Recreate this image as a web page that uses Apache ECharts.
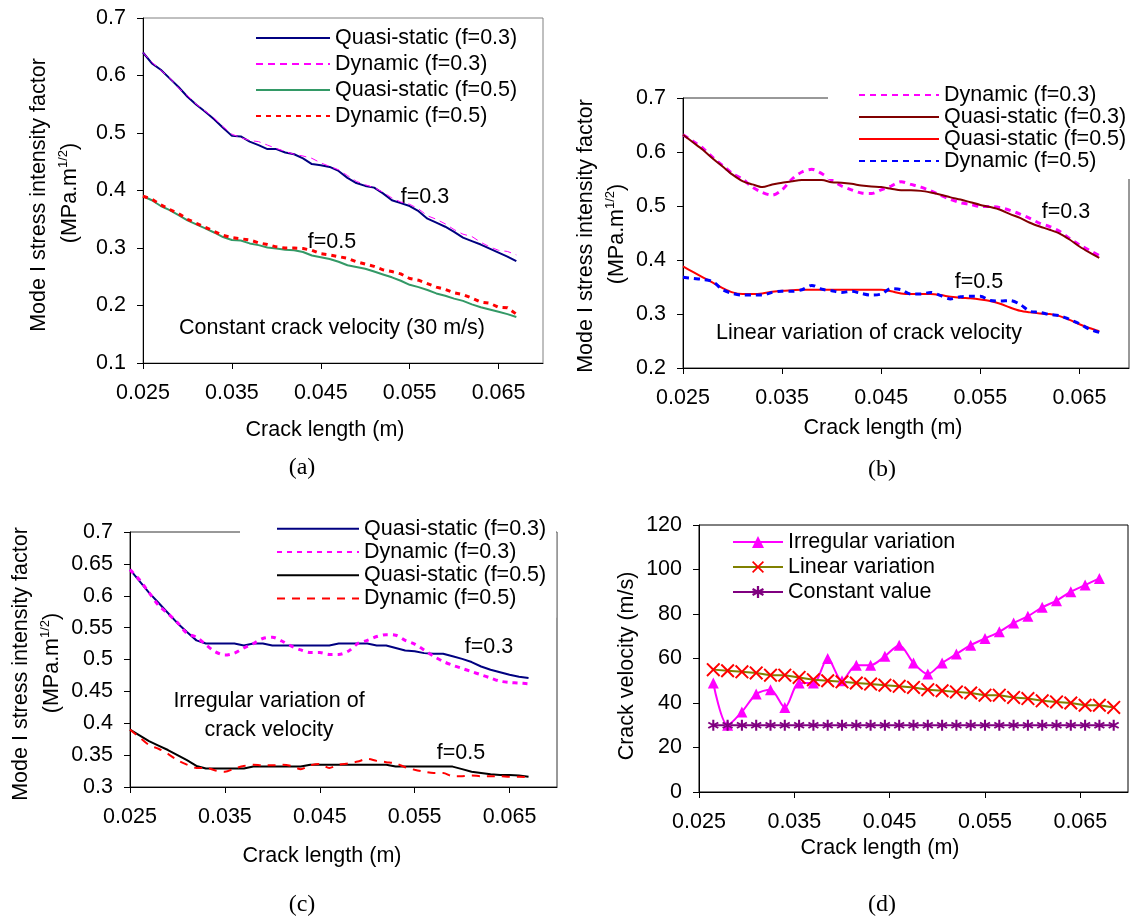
<!DOCTYPE html>
<html>
<head>
<meta charset="utf-8">
<script src="https://cdn.jsdelivr.net/npm/echarts@6/dist/echarts.min.js"></script>
<style>
html, body { margin: 0; padding: 0; background: #fff; }
.panel { position: absolute; }
</style>
</head>
<body>
<div id="pa" class="panel" style="left:0;top:0;width:567px;height:490px"></div>
<div id="pb" class="panel" style="left:567px;top:0;width:568px;height:490px"></div>
<div id="pc" class="panel" style="left:0;top:490px;width:567px;height:434px"></div>
<div id="pd" class="panel" style="left:567px;top:490px;width:568px;height:434px"></div>
<script>
// crack length (m) for panels a-c
const crackLen = [0.025, 0.026, 0.027, 0.028, 0.029, 0.030, 0.031, 0.032, 0.033, 0.034,
    0.035, 0.036, 0.037, 0.038, 0.039, 0.040, 0.041, 0.042, 0.043, 0.044,
    0.045, 0.046, 0.047, 0.048, 0.049, 0.050, 0.051, 0.052, 0.053, 0.054,
    0.055, 0.056, 0.057, 0.058, 0.059, 0.060, 0.061, 0.062, 0.063, 0.064,
    0.065, 0.066, 0.067];
const xTickVals = [0.025, 0.035, 0.045, 0.055, 0.065];

// (a) constant crack velocity
const qs03a = [0.640, 0.621, 0.610, 0.595, 0.580, 0.563, 0.549, 0.537, 0.524, 0.509,
    0.495, 0.494, 0.485, 0.479, 0.472, 0.472, 0.466, 0.463, 0.456, 0.446,
    0.444, 0.441, 0.434, 0.422, 0.413, 0.408, 0.405, 0.395, 0.383, 0.378,
    0.373, 0.364, 0.351, 0.344, 0.337, 0.328, 0.318, 0.312, 0.306, 0.299,
    0.292, 0.285, 0.277];
const dyn03a = [0.640, 0.623, 0.609, 0.596, 0.578, 0.565, 0.550, 0.538, 0.526, 0.511,
    0.498, 0.492, 0.487, 0.485, 0.479, 0.473, 0.468, 0.463, 0.460, 0.456,
    0.448, 0.442, 0.436, 0.426, 0.416, 0.410, 0.405, 0.397, 0.387, 0.380,
    0.376, 0.368, 0.356, 0.350, 0.342, 0.332, 0.324, 0.320, 0.310, 0.302,
    0.296, 0.294, 0.288];
const qs05a = [0.390, 0.383, 0.373, 0.366, 0.357, 0.348, 0.341, 0.334, 0.327, 0.319,
    0.314, 0.313, 0.308, 0.305, 0.301, 0.299, 0.297, 0.296, 0.293, 0.287,
    0.284, 0.281, 0.276, 0.270, 0.267, 0.264, 0.259, 0.254, 0.249, 0.243,
    0.236, 0.232, 0.227, 0.221, 0.217, 0.212, 0.208, 0.202, 0.197, 0.193,
    0.189, 0.185, 0.180];
const dyn05a = [0.390, 0.385, 0.375, 0.367, 0.360, 0.350, 0.343, 0.336, 0.329, 0.322,
    0.318, 0.316, 0.314, 0.309, 0.306, 0.302, 0.300, 0.300, 0.299, 0.296,
    0.290, 0.288, 0.285, 0.282, 0.276, 0.272, 0.268, 0.262, 0.259, 0.255,
    0.247, 0.244, 0.238, 0.232, 0.228, 0.222, 0.219, 0.213, 0.206, 0.204,
    0.197, 0.196, 0.185];

// (b) linear variation of crack velocity
const dyn03b = [0.632, 0.620, 0.607, 0.590, 0.575, 0.560, 0.550, 0.535, 0.525, 0.520,
    0.530, 0.550, 0.563, 0.568, 0.560, 0.548, 0.537, 0.530, 0.524, 0.523,
    0.530, 0.537, 0.545, 0.540, 0.535, 0.528, 0.520, 0.512, 0.506, 0.503,
    0.499, 0.499, 0.497, 0.492, 0.485, 0.477, 0.468, 0.462, 0.453, 0.440,
    0.428, 0.418, 0.408];
const qs03b = [0.632, 0.618, 0.604, 0.588, 0.573, 0.558, 0.546, 0.540, 0.535, 0.540,
    0.543, 0.546, 0.548, 0.548, 0.548, 0.544, 0.543, 0.541, 0.538, 0.536,
    0.535, 0.532, 0.529, 0.529, 0.528, 0.525, 0.521, 0.516, 0.512, 0.507,
    0.502, 0.498, 0.493, 0.485, 0.478, 0.469, 0.462, 0.456, 0.449, 0.438,
    0.425, 0.414, 0.404];
const qs05b = [0.388, 0.378, 0.368, 0.358, 0.348, 0.340, 0.337, 0.337, 0.338, 0.341,
    0.343, 0.344, 0.345, 0.345, 0.345, 0.345, 0.345, 0.345, 0.345, 0.345,
    0.345, 0.342, 0.338, 0.337, 0.337, 0.337, 0.335, 0.332, 0.330, 0.329,
    0.327, 0.324, 0.319, 0.312, 0.306, 0.303, 0.301, 0.300, 0.296, 0.289,
    0.281, 0.274, 0.268];
const dyn05b = [0.368, 0.366, 0.364, 0.360, 0.345, 0.338, 0.335, 0.335, 0.335, 0.340,
    0.342, 0.342, 0.345, 0.353, 0.346, 0.343, 0.340, 0.342, 0.338, 0.335,
    0.337, 0.347, 0.345, 0.337, 0.337, 0.340, 0.334, 0.328, 0.332, 0.333,
    0.333, 0.325, 0.324, 0.325, 0.318, 0.305, 0.303, 0.299, 0.297, 0.290,
    0.282, 0.272, 0.266];

// (c) irregular variation of crack velocity
const qs03c = [0.641, 0.623, 0.605, 0.589, 0.573, 0.557, 0.543, 0.530, 0.525, 0.525,
    0.525, 0.525, 0.522, 0.525, 0.525, 0.522, 0.522, 0.522, 0.522, 0.522,
    0.522, 0.522, 0.525, 0.525, 0.525, 0.525, 0.522, 0.522, 0.518, 0.514,
    0.513, 0.510, 0.509, 0.509, 0.505, 0.501, 0.496, 0.489, 0.484, 0.480,
    0.476, 0.473, 0.471];
const dyn03c = [0.641, 0.625, 0.605, 0.585, 0.572, 0.558, 0.541, 0.535, 0.523, 0.512,
    0.507, 0.510, 0.518, 0.525, 0.533, 0.535, 0.529, 0.521, 0.515, 0.511,
    0.511, 0.508, 0.508, 0.513, 0.525, 0.530, 0.536, 0.539, 0.538, 0.530,
    0.524, 0.515, 0.505, 0.497, 0.491, 0.486, 0.481, 0.476, 0.471, 0.466,
    0.464, 0.463, 0.462];
const qs05c = [0.390, 0.381, 0.372, 0.365, 0.358, 0.350, 0.342, 0.333, 0.329, 0.329,
    0.329, 0.329, 0.329, 0.332, 0.332, 0.332, 0.332, 0.332, 0.332, 0.335,
    0.335, 0.335, 0.335, 0.335, 0.335, 0.335, 0.335, 0.335, 0.332, 0.332,
    0.332, 0.332, 0.332, 0.332, 0.332, 0.328, 0.324, 0.322, 0.320, 0.319,
    0.319, 0.318, 0.316];
const dyn05c = [0.390, 0.378, 0.366, 0.360, 0.352, 0.342, 0.335, 0.330, 0.330, 0.326,
    0.324, 0.329, 0.333, 0.335, 0.334, 0.334, 0.335, 0.333, 0.328, 0.334,
    0.336, 0.330, 0.335, 0.337, 0.340, 0.344, 0.341, 0.339, 0.337, 0.331,
    0.327, 0.324, 0.322, 0.322, 0.317, 0.317, 0.318, 0.317, 0.317, 0.317,
    0.316, 0.316, 0.315];

// (d) crack velocity profiles
const lenIrregular = [0.0265, 0.028, 0.0295, 0.031, 0.0325, 0.034, 0.0355, 0.037, 0.0385, 0.040,
    0.0415, 0.043, 0.0445, 0.046, 0.0475, 0.049, 0.0505, 0.052, 0.0535, 0.055,
    0.0565, 0.058, 0.0595, 0.061, 0.0625, 0.064, 0.0655, 0.067];
const velIrregular = [49, 30, 36, 44, 46, 38, 49, 49, 60, 50,
    57, 57, 61, 66, 58, 53, 58, 62, 66, 69,
    72, 76, 79, 83, 86, 90, 93, 96];
const lenVel = [0.0265, 0.028, 0.0295, 0.031, 0.0325, 0.034, 0.0355, 0.037, 0.0385, 0.040,
    0.0415, 0.043, 0.0445, 0.046, 0.0475, 0.049, 0.0505, 0.052, 0.0535, 0.055,
    0.0565, 0.058, 0.0595, 0.061, 0.0625, 0.064, 0.0655, 0.067, 0.0685];
const velLinear = [55, 54.5, 54, 53.5, 52.5, 52.5, 51.5, 50.5, 50, 49.5,
    49, 48.5, 48, 47.5, 47, 46, 45.5, 45, 44.5, 43.5,
    43.5, 42.5, 42, 41, 40.5, 40, 39, 39, 38];
const velConstant = [30, 30, 30, 30, 30, 30, 30, 30, 30, 30,
    30, 30, 30, 30, 30, 30, 30, 30, 30, 30,
    30, 30, 30, 30, 30, 30, 30, 30, 30];

const FONT = 'Liberation Sans';
const FS = 21.5;

const pairs = (xs, ys) => xs.map((x, i) => [x, ys[i]]);

const line = (name, xs, ys, color, width, type, extra) => Object.assign({
    type: 'line',
    name: name,
    data: pairs(xs, ys),
    symbol: 'none',
    lineStyle: { color: color, width: width, type: type },
    itemStyle: { color: color }
}, extra || {});

const xAxisCfg = () => ({
    type: 'value',
    min: 0.025,
    max: 0.07,
    axisLine: { lineStyle: { color: '#000', width: 1 } },
    axisTick: { show: true, customValues: xTickVals, length: 6, lineStyle: { color: '#000' } },
    axisLabel: { customValues: xTickVals, formatter: v => v.toFixed(3), margin: 19, color: '#000', fontSize: FS, fontFamily: FONT },
    splitLine: { show: false }
});

const yAxisCfg = (min, max, interval) => ({
    type: 'value',
    min: min,
    max: max,
    interval: interval,
    axisLine: { show: true, lineStyle: { color: '#000', width: 1 } },
    axisTick: { show: true, length: 6, lineStyle: { color: '#000' } },
    axisLabel: { margin: 17, color: '#000', fontSize: FS, fontFamily: FONT },
    splitLine: { show: false }
});

const txt = (x, y, text, extra) => Object.assign({
    type: 'text',
    x: x,
    y: y,
    style: {
        text: text,
        fontSize: FS,
        fontFamily: FONT,
        fill: '#000',
        textAlign: 'center',
        textVerticalAlign: 'middle'
    }
}, extra || {});

const vtxt = (x, y, text) => txt(x, y, text, { rotation: Math.PI / 2 });

const unitTxt = (x, y) => ({
    type: 'text',
    x: x,
    y: y,
    rotation: Math.PI / 2,
    style: {
        text: '(MPa.m{sup|1/2})',
        fontSize: FS,
        fontFamily: FONT,
        fill: '#000',
        textAlign: 'center',
        textVerticalAlign: 'middle',
        lineHeight: 26,
        rich: { sup: { fontSize: 13, fontFamily: FONT, fill: '#000', verticalAlign: 'top', lineHeight: 26 } }
    }
});

const caption = (x, y, text) => ({
    type: 'text',
    x: x,
    y: y,
    style: { text: text, fontSize: 24, fontFamily: 'Liberation Serif', fill: '#000', textAlign: 'center', textVerticalAlign: 'middle' }
});

const legendCfg = (names, left, top, pitch, itemWidth, extra) => Object.assign({
    orient: 'vertical',
    left: left,
    top: top,
    padding: 0,
    itemGap: 0,
    itemWidth: itemWidth,
    itemHeight: 14,
    itemStyle: { opacity: 0 },
    selectedMode: false,
    data: names,
    textStyle: { fontSize: FS, fontFamily: FONT, color: '#000', lineHeight: pitch }
}, extra || {});

function render(id, option) {
    const chart = echarts.init(document.getElementById(id), null, { renderer: 'canvas' });
    option.animation = false;
    option.textStyle = { fontFamily: FONT, color: '#000' };
    chart.setOption(option);
    window.addEventListener('resize', () => chart.resize());
}

// (a)
render('pa', {
    grid: { left: 143, top: 18, width: 400, height: 345, show: true, borderColor: '#808080', borderWidth: 1 },
    xAxis: xAxisCfg(),
    yAxis: yAxisCfg(0.1, 0.7, 0.1),
    legend: legendCfg(['Quasi-static (f=0.3)', 'Dynamic (f=0.3)', 'Quasi-static (f=0.5)', 'Dynamic (f=0.5)'], 255, 25, 26, 74),
    series: [
        line('Quasi-static (f=0.3)', crackLen, qs03a, '#000080', 2, 'solid'),
        line('Dynamic (f=0.3)', crackLen, dyn03a, '#FF00FF', 1, [7, 5]),
        line('Quasi-static (f=0.5)', crackLen, qs05a, '#339966', 2, 'solid'),
        line('Dynamic (f=0.5)', crackLen, dyn05a, '#FF0000', 3, [5, 5])
    ],
    graphic: [
        txt(425, 197, 'f=0.3'),
        txt(332, 242, 'f=0.5'),
        txt(332, 328, 'Constant crack velocity (30 m/s)'),
        vtxt(39, 195, 'Mode I stress intensity factor'),
        unitTxt(70, 193),
        txt(325, 430, 'Crack length (m)'),
        caption(302, 468, '(a)')
    ]
});

// (b)
render('pb', {
    grid: { left: 116, top: 98, width: 446, height: 270, show: true, borderColor: '#333', borderWidth: 1 },
    xAxis: xAxisCfg(),
    yAxis: yAxisCfg(0.2, 0.7, 0.1),
    legend: legendCfg(['Dynamic (f=0.3)', 'Quasi-static (f=0.3)', 'Quasi-static (f=0.5)', 'Dynamic (f=0.5)'], 261, 80, 21.7, 80,
        { padding: [4, 4, 7, 30], backgroundColor: '#fff' }),
    series: [
        line('Dynamic (f=0.3)', crackLen, dyn03b, '#FF00FF', 3, [6, 5], { smooth: 0.3 }),
        line('Quasi-static (f=0.3)', crackLen, qs03b, '#800000', 2, 'solid', { smooth: 0.3 }),
        line('Quasi-static (f=0.5)', crackLen, qs05b, '#FF0000', 2, 'solid', { smooth: 0.3 }),
        line('Dynamic (f=0.5)', crackLen, dyn05b, '#0000FF', 3, [6, 5], { smooth: 0.3 })
    ],
    graphic: [
        txt(499, 212, 'f=0.3'),
        txt(412, 282, 'f=0.5'),
        txt(302, 333, 'Linear variation of crack velocity'),
        vtxt(19, 236, 'Mode I stress intensity factor'),
        unitTxt(50, 234),
        txt(316, 428, 'Crack length (m)'),
        caption(315, 470, '(b)')
    ]
});

// (c)
render('pc', {
    grid: { left: 130, top: 42, width: 427, height: 255, show: true, borderColor: '#333', borderWidth: 1 },
    xAxis: xAxisCfg(),
    yAxis: yAxisCfg(0.3, 0.7, 0.05),
    legend: legendCfg(['Quasi-static (f=0.3)', 'Dynamic (f=0.3)', 'Quasi-static (f=0.5)', 'Dynamic (f=0.5)'], 240, 17, 23.3, 82,
        { padding: [10, 10, 7.5, 36], backgroundColor: '#fff' }),
    series: [
        line('Quasi-static (f=0.3)', crackLen, qs03c, '#000080', 2, 'solid'),
        line('Dynamic (f=0.3)', crackLen, dyn03c, '#FF00FF', 3, [5, 5], { smooth: 0.3 }),
        line('Quasi-static (f=0.5)', crackLen, qs05c, '#000000', 2, 'solid'),
        line('Dynamic (f=0.5)', crackLen, dyn05c, '#FF0000', 2, [8, 7], { smooth: 0.3 })
    ],
    graphic: [
        txt(489, 157, 'f=0.3'),
        txt(269, 211, 'Irregular variation of'),
        txt(269, 240, 'crack velocity'),
        txt(461, 263, 'f=0.5'),
        vtxt(21, 174, 'Mode I stress intensity factor'),
        unitTxt(52, 173),
        txt(322, 366, 'Crack length (m)'),
        caption(302, 415, '(c)')
    ]
});

// (d)
const xMark = 'path://M0,1L1,0L5,4L9,0L10,1L6,5L10,9L9,10L5,6L1,10L0,9L4,5Z';
const starMark = 'path://M4.1,0L5.9,0L5.9,10L4.1,10Z M0.22,3.28L1.12,1.72L9.78,6.72L8.88,8.28Z M8.88,1.72L9.78,3.28L1.12,8.28L0.22,6.72Z';
render('pd', {
    grid: { left: 132, top: 35, width: 429, height: 267, show: true, borderColor: '#000', borderWidth: 1 },
    xAxis: xAxisCfg(),
    yAxis: yAxisCfg(0, 120, 20),
    legend: legendCfg(['Irregular variation', 'Linear variation', 'Constant value'], 165, 39.5, 25, 50,
        { itemHeight: 15, itemStyle: {} }),
    series: [
        line('Irregular variation', lenIrregular, velIrregular, '#FF00FF', 2, 'solid',
            { symbol: 'triangle', symbolSize: 11, smooth: 0.3 }),
        line('Linear variation', lenVel, velLinear, '#808000', 2, 'solid',
            { symbol: xMark, symbolSize: 14, itemStyle: { color: '#FF0000' } }),
        line('Constant value', lenVel, velConstant, '#800080', 2, 'solid',
            { symbol: starMark, symbolSize: 11 })
    ],
    graphic: [
        vtxt(60, 176, 'Crack velocity (m/s)'),
        txt(313, 358, 'Crack length (m)'),
        caption(315, 415, '(d)')
    ]
});
</script>
</body>
</html>
